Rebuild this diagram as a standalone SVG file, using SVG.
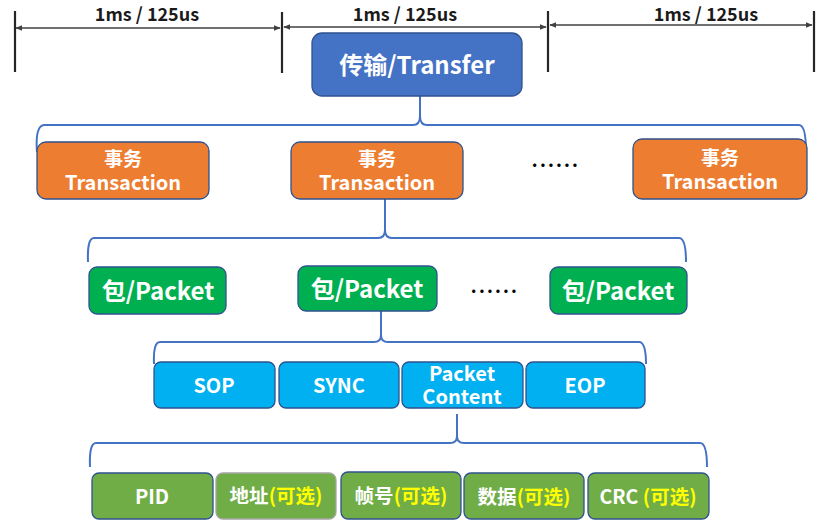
<svg xmlns="http://www.w3.org/2000/svg" width="827" height="523" viewBox="0 0 827 523">
<defs>
<marker id="ah" viewBox="0 0 10 10" refX="9" refY="5" markerWidth="7" markerHeight="7" orient="auto-start-reverse" markerUnits="userSpaceOnUse">
<path d="M0,1 L10,5 L0,9 z" fill="#404040"/>
</marker>
<style>
text{font-family:"Noto Sans CJK SC","Noto Sans",sans-serif;font-weight:bold;text-anchor:middle;dominant-baseline:central}
.lbl{fill:#1a1a1a;font-size:18px}
.w{fill:#fff}
.y{fill:#ffff00}
.tick{stroke:#262626;stroke-width:2.2}
.dim{stroke:#404040;stroke-width:1.6;marker-start:url(#ah);marker-end:url(#ah)}
.brace{fill:none;stroke:#4472c4;stroke-width:2}
.tr{fill:#4472c4;stroke:#2f528f;stroke-width:1.3}
.ts{fill:#ed7d31;stroke:#2f528f;stroke-width:1.3}
.pk{fill:#00b050;stroke:#2f528f;stroke-width:1.3}
.fd{fill:#00b0f0;stroke:#2f528f;stroke-width:1.3}
.gr{fill:#70ad47;stroke:#2f528f;stroke-width:1.3}
.dots{fill:#000;font-size:18px;letter-spacing:2.2px}
</style>
</defs>

<g id="timeline">
<line class="tick" x1="15" y1="11" x2="15" y2="72"/>
<line class="tick" x1="282" y1="12" x2="282" y2="73"/>
<line class="tick" x1="548" y1="11" x2="548" y2="72"/>
<line class="tick" x1="814" y1="11" x2="814" y2="72"/>
<line class="dim" x1="16" y1="28" x2="280" y2="28"/>
<line class="dim" x1="284" y1="27" x2="546" y2="27"/>
<line class="dim" x1="550" y1="25" x2="812" y2="25"/>
<text class="lbl" x="147" y="12.5">1ms / 125us</text>
<text class="lbl" x="405" y="12.5">1ms / 125us</text>
<text class="lbl" x="706" y="12.5">1ms / 125us</text>
</g>

<g id="connectors">
<path class="brace" d="M37,152 Q35,126 44,125 L413,125 Q420,125 420,116 L420,96 M420,116 Q420,125 427,125 L799,125 Q806,125 806,152"/>
<path class="brace" d="M88,262 Q87,238 94,238 L378,238 Q385,238 385,230 L385,199 M385,230 Q385,238 392,238 L679,238 Q686,238 686,262"/>
<path class="brace" d="M154,364 Q153,342 160,342 L374,342 Q381,342 381,335 L381,311 M381,335 Q381,342 388,342 L639,342 Q646,342 646,364"/>
<path class="brace" d="M90,467 Q89,443 96,443 L450,443 Q457,443 457,436 L457,414 M457,436 Q457,443 464,443 L700,443 Q707,443 707,467"/>
</g>

<g id="transfer">
<rect class="tr" x="312" y="33" width="210" height="63" rx="10"/>
<text class="w" x="417" y="63" font-size="24">传输/Transfer</text>
</g>

<g id="transaction1">
<rect class="ts" x="37" y="142" width="172" height="57" rx="9"/>
<text class="w" font-size="20"><tspan x="123" y="157" font-size="19">事务</tspan><tspan x="123" y="181">Transaction</tspan></text>
</g>
<g id="transaction2">
<rect class="ts" x="291" y="142" width="172" height="57" rx="9"/>
<text class="w" font-size="20"><tspan x="377" y="157" font-size="19">事务</tspan><tspan x="377" y="181">Transaction</tspan></text>
</g>
<text id="dots1" class="dots" x="556" y="159">......</text>
<g id="transaction3">
<rect class="ts" x="633" y="139" width="174" height="60" rx="9"/>
<text class="w" font-size="20"><tspan x="720" y="156" font-size="19">事务</tspan><tspan x="720" y="180">Transaction</tspan></text>
</g>

<g id="packet1">
<rect class="pk" x="89" y="267" width="137" height="47" rx="8"/>
<text class="w" x="158" y="289" font-size="24">包/Packet</text>
</g>
<g id="packet2">
<rect class="pk" x="298" y="266" width="139" height="45" rx="8"/>
<text class="w" x="367" y="287" font-size="24">包/Packet</text>
</g>
<text id="dots2" class="dots" x="495" y="285">......</text>
<g id="packet3">
<rect class="pk" x="550" y="267" width="137" height="47" rx="8"/>
<text class="w" x="618" y="289" font-size="24">包/Packet</text>
</g>

<g id="sop">
<rect class="fd" x="154" y="362" width="121" height="46" rx="7"/>
<text class="w" x="214" y="384" font-size="20">SOP</text>
</g>
<g id="sync">
<rect class="fd" x="279" y="362" width="120" height="46" rx="7"/>
<text class="w" x="339" y="384" font-size="20">SYNC</text>
</g>
<g id="content">
<rect class="fd" x="402" y="362" width="121" height="46" rx="7"/>
<text class="w" font-size="20"><tspan x="462" y="372">Packet</tspan><tspan x="462" y="395">Content</tspan></text>
</g>
<g id="eop">
<rect class="fd" x="526" y="362" width="119" height="46" rx="7"/>
<text class="w" x="585" y="384" font-size="20">EOP</text>
</g>

<g id="pid">
<rect class="gr" x="92" y="473" width="121" height="46" rx="7"/>
<text class="w" x="152" y="495" font-size="20">PID</text>
</g>
<g id="addr">
<rect class="gr" x="216" y="473" width="120" height="46" rx="7" style="stroke:#a5a5a5"/>
<text x="276" y="494" font-size="19.5"><tspan class="w">地址</tspan><tspan class="y">(可选)</tspan></text>
</g>
<g id="frame">
<rect class="gr" x="341" y="472" width="120" height="47" rx="7"/>
<text x="401" y="494" font-size="19.5"><tspan class="w">帧号</tspan><tspan class="y">(可选)</tspan></text>
</g>
<g id="data">
<rect class="gr" x="464" y="473" width="120" height="46" rx="7"/>
<text x="524" y="495" font-size="19.5"><tspan class="w">数据</tspan><tspan class="y">(可选)</tspan></text>
</g>
<g id="crc">
<rect class="gr" x="588" y="473" width="121" height="46" rx="7"/>
<text x="648" y="495" font-size="19.5"><tspan class="w">CRC </tspan><tspan class="y">(可选)</tspan></text>
</g>
</svg>
